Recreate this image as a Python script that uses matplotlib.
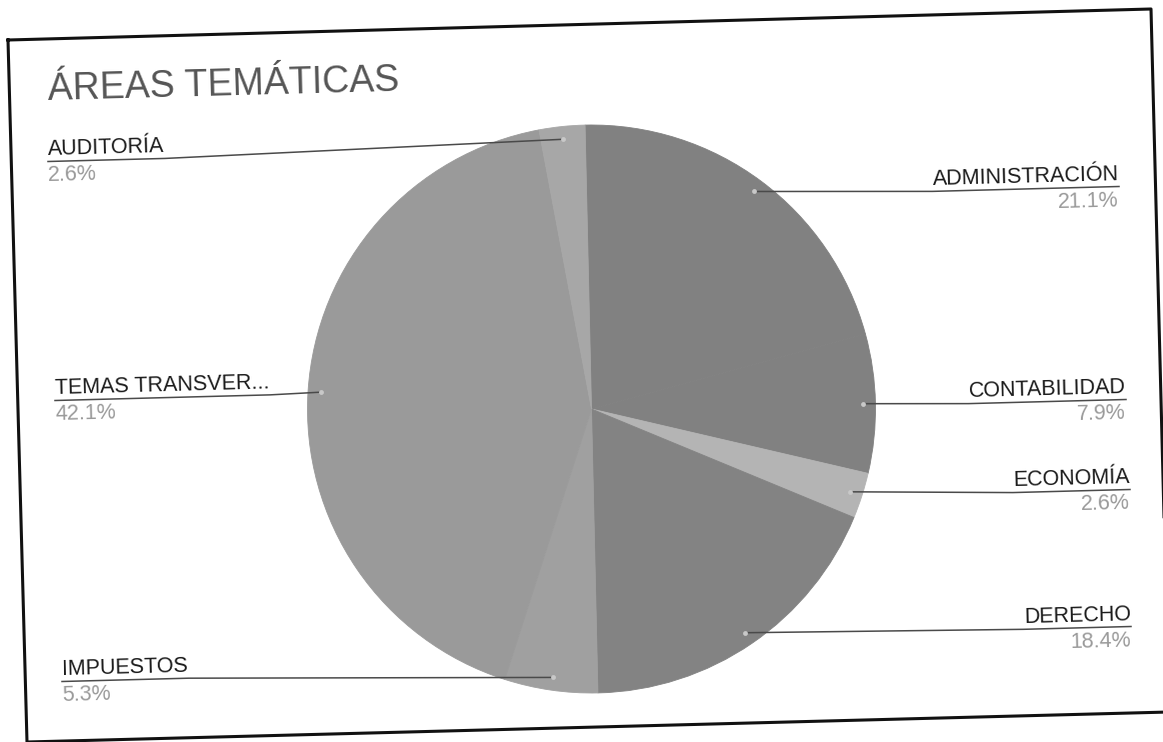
import numpy as np
import matplotlib
matplotlib.use('Agg')
import matplotlib.pyplot as plt

plt.rcParams['font.family'] = ['Liberation Sans', 'DejaVu Sans']

# chart data (clockwise from the top)
categories = ['ADMINISTRACIÓN', 'CONTABILIDAD', 'ECONOMÍA', 'DERECHO',
              'IMPUESTOS', 'TEMAS TRANSVER...', 'AUDITORÍA']
shares = [21.1, 7.9, 2.6, 18.4, 5.3, 42.1, 2.6]
title = 'ÁREAS TEMÁTICAS'

# greys as they came out of the photocopy
slice_colors = ['#818181', '#818181', '#b4b4b4', '#838383',
                '#a0a0a0', '#9a9a9a', '#a7a7a7']

# label anchors in picture pixels: side, x, baseline
label_pos = [('right', 1119, 180), ('right', 1126, 393), ('right', 1130, 483),
             ('right', 1131, 620), ('left', 62, 675), ('left', 55, 394),
             ('left', 48, 155)]

W, H = 1163, 742
tilt = 1.5  # the scan is a bit crooked
slope = np.tan(np.radians(tilt))


def Y(y):
    return H - y


fig = plt.figure(figsize=(W / 100, H / 100), dpi=100)
ax = fig.add_axes([0, 0, 1, 1])

# border of the scanned sheet
frame = np.array([(8, 40), (1151, 9), (1169, 712), (27, 742), (8, 40)], float)
ax.plot(frame[:, 0], H - frame[:, 1], color='#111111', lw=2.2)

cx, cy, R = 591.5, 409, 284
wedges, _ = ax.pie(shares, colors=slice_colors, startangle=91.3,
                   counterclock=False, radius=R, center=(cx, Y(cy)))
for w in wedges:
    # hide the seams between slices
    w.set_edgecolor(w.get_facecolor())
    w.set_linewidth(0.6)

ax.set_xlim(0, W)
ax.set_ylim(0, H)
ax.set_aspect('auto')
ax.axis('off')

ax.text(48, Y(100), title, fontsize=27, color='#555555', va='baseline',
        rotation=tilt, rotation_mode='anchor')

texts = []
for name, share, (side, x, base) in zip(categories, shares, label_pos):
    t = ax.text(x, Y(base), name, ha=side, va='baseline', fontsize=15.5,
                color='#1a1a1a', rotation=tilt, rotation_mode='anchor')
    ax.text(x, Y(base + 26), f'{share:.1f}%', ha=side, va='baseline',
            fontsize=15.5, color='#9a9a9a', rotation=tilt,
            rotation_mode='anchor')
    texts.append(t)

fig.canvas.draw()
renderer = fig.canvas.get_renderer()

# leader lines: from the slice to the underline below each label
for w, t, (side, x, base) in zip(wedges, texts, label_pos):
    wpx = t.get_window_extent(renderer).width
    uy = Y(base + 6.5)
    if side == 'right':
        near = (x - wpx, uy - wpx * slope)
    else:
        near = (x + wpx, uy + wpx * slope)
    mid = np.radians((w.theta1 + w.theta2) / 2)
    px = w.center[0] + 0.955 * w.r * np.cos(mid)
    py = w.center[1] + 0.955 * w.r * np.sin(mid)
    ax.plot([px, near[0], x], [py, near[1], uy], color='#4a4a4a', lw=1.1)
    ax.plot(px, py, 'o', ms=3.5, color='#c8c8c8', mec='none')

fig.savefig('out.png', dpi=100, facecolor='white')
